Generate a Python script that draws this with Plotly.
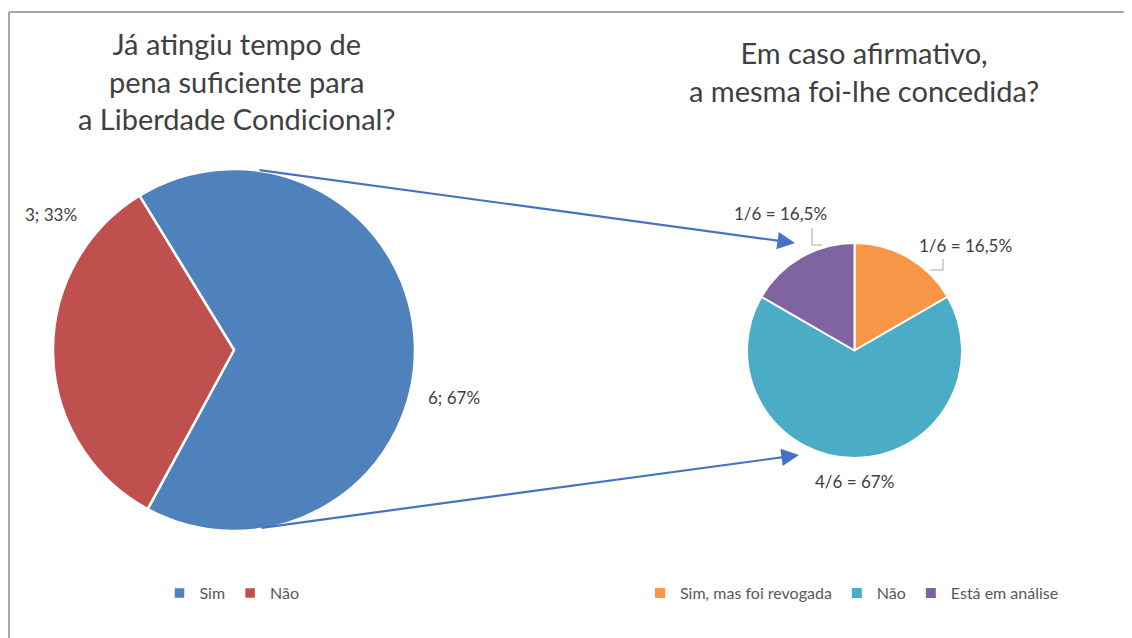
import plotly.graph_objects as go

W, H = 1132, 638

# Pergunta 1
q1_labels = ["Sim", "Não"]
q1_values = [6, 3]
q1_colors = ["#4F81BD", "#C0504D"]

# Pergunta 2
q2_labels = ["Sim, mas foi revogada", "Não", "Está em análise"]
q2_values = [1, 4, 1]
q2_text = ["1/6 = 16,5%", "4/6 = 67%", "1/6 = 16,5%"]
q2_colors = ["#F79646", "#4BACC6", "#8064A2"]

FONT = "Lato, Open Sans, sans-serif"
TXT = "#404040"
OFF = 8  # margem do <body> na página gerada


def px(x):
    return (x - OFF) / W


def py(y):
    return 1 - (y - OFF) / H


q1_total = sum(q1_values)
q1_text = [f"{v}; {round(100 * v / q1_total)}%" for v in q1_values]

fig = go.Figure()
fig.add_trace(go.Pie(
    labels=q1_labels, values=q1_values, sort=False, direction="clockwise",
    rotation=-31.5, textinfo="none", hovertext=q1_text, hoverinfo="label+text",
    marker=dict(colors=q1_colors, line=dict(color="white", width=2.5)),
    domain=dict(x=[px(53), px(415)], y=[py(531), py(169)]),
    legend="legend",
))
# as pizzas juntam itens da legenda com o mesmo rótulo; o espaço invisível evita isso
fig.add_trace(go.Pie(
    labels=[l + "\u200b" for l in q2_labels], values=q2_values, sort=False,
    direction="clockwise", rotation=0, textinfo="none",
    hovertext=q2_text, hoverinfo="label+text",
    marker=dict(colors=q2_colors, line=dict(color="white", width=2)),
    domain=dict(x=[px(747), px(962)], y=[py(458), py(243)]),
    legend="legend2",
))

annots = [
    dict(x=px(236), y=py(81), text="Já atingiu tempo de<br>pena suficiente para<br>a Liberdade Condicional?",
         font=dict(size=29, color=TXT)),
    dict(x=px(864), y=py(71), text="Em caso afirmativo,<br>a mesma foi-lhe concedida?",
         font=dict(size=29, color=TXT)),
    # rótulos de dados
    dict(x=px(51), y=py(215), text=q1_text[1], font=dict(size=17, color=TXT)),
    dict(x=px(454), y=py(397), text=q1_text[0], font=dict(size=17, color=TXT)),
    dict(x=px(965), y=py(245), text=q2_text[0], font=dict(size=17, color=TXT)),
    dict(x=px(854), y=py(481), text=q2_text[1], font=dict(size=17, color=TXT)),
    dict(x=px(780), y=py(213), text=q2_text[2], font=dict(size=17, color=TXT)),
]
for a in annots:
    a.update(xref="paper", yref="paper", showarrow=False, xanchor="center", yanchor="middle")

# setas entre os gráficos
for tip, tail in [((795, 243), (258, 170)), ((799, 455), (260, 528))]:
    annots.append(dict(
        x=px(tip[0]), y=py(tip[1]), xref="paper", yref="paper", text="",
        showarrow=True, ax=tail[0] - tip[0], ay=tail[1] - tip[1],
        arrowhead=2, arrowsize=1.6, arrowwidth=2.2, arrowcolor="#4472C4",
    ))

shapes = [
    dict(type="line", xref="paper", yref="paper", x0=px(9), y0=py(12), x1=1, y1=py(12),
         line=dict(color="#A6A6A6", width=2)),
    dict(type="line", xref="paper", yref="paper", x0=px(9), y0=py(12), x1=px(9), y1=0,
         line=dict(color="#A6A6A6", width=2)),
    dict(type="path", xref="paper", yref="paper",
         path=f"M {px(812)} {py(228)} L {px(812)} {py(245)} L {px(822)} {py(245)}",
         line=dict(color="#A6A6A6", width=1)),
    dict(type="path", xref="paper", yref="paper",
         path=f"M {px(943)} {py(259)} L {px(943)} {py(270)} L {px(930)} {py(270)}",
         line=dict(color="#A6A6A6", width=1)),
]

legend_style = dict(orientation="h", xanchor="center", yanchor="middle",
                    font=dict(family=FONT, size=16, color="#595959"),
                    bgcolor="rgba(0,0,0,0)", itemwidth=30)

fig.update_layout(
    width=W, height=H,
    margin=dict(l=0, r=0, t=0, b=0),
    paper_bgcolor="white", plot_bgcolor="white",
    font=dict(family=FONT, color=TXT),
    annotations=annots, shapes=shapes,
    legend=dict(legend_style, x=px(232), y=py(593)),
    legend2=dict(legend_style, x=px(852), y=py(593)),
)

fig.write_html("out.html")
